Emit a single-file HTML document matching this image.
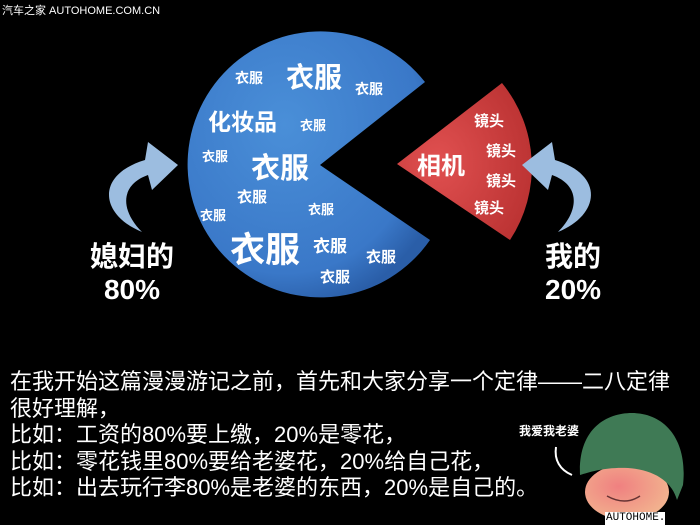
<!DOCTYPE html>
<html><head><meta charset="utf-8"><style>
body{margin:0;width:700px;height:525px;background:#000;overflow:hidden;position:relative;font-family:"Liberation Sans","Noto Sans CJK SC",sans-serif;color:#fff}
.t{position:absolute;white-space:nowrap}
</style></head><body>
<svg width="700" height="525" style="position:absolute;left:0;top:0">
<defs>
<radialGradient id="bg" cx="0.4" cy="0.35" r="0.7"><stop offset="0" stop-color="#4a8fd8"/><stop offset="0.8" stop-color="#3a78c8"/><stop offset="1" stop-color="#2a5ea8"/></radialGradient>
<radialGradient id="rg" cx="0.3" cy="0.5" r="0.8"><stop offset="0" stop-color="#e05050"/><stop offset="1" stop-color="#b83030"/></radialGradient>
<radialGradient id="fg" cx="0.4" cy="0.4" r="0.7"><stop offset="0" stop-color="#f08080"/><stop offset="1" stop-color="#f2b890"/></radialGradient>
</defs>
<path d="M320,165 L425,82 A133,133 0 1 0 430,240 Z" fill="url(#bg)"/>
<path d="M397,164 L502,83 A133,133 0 0 1 510,240 Z" fill="url(#rg)"/>
<path d="M142,232 C100,215 95,175 145,160 L148,142 L178,165 L152,190 L148,175 C120,185 120,210 142,232 Z" fill="#9cbde0"/>
<path d="M558,232 C600,215 605,175 555,160 L552,142 L522,165 L548,190 L552,175 C580,185 580,210 558,232 Z" fill="#9cbde0"/>
<path d="M556,447 C554,460 560,470 572,475" stroke="#fff" stroke-width="2" fill="none"/>
<ellipse cx="627" cy="492" rx="42" ry="28" fill="url(#fg)"/>
<path d="M580,475 C578,430 605,413 632,413 C665,413 688,440 683,485 L677,500 C672,482 655,470 628,468 C605,467 590,472 580,475 Z" fill="#3f7a55"/>
<path d="M607,496 Q625,506 640,496" stroke="#633" stroke-width="1.5" fill="none"/>
<rect x="605" y="512" width="60" height="13" fill="#fff"/>
</svg>
<div class="t" style="left:2px;top:2px;font-size:11px">汽车之家 AUTOHOME.COM.CN</div>
<div class="t" style="left:235px;top:68px;font-size:14px;font-weight:bold">衣服</div>
<div class="t" style="left:286px;top:56px;font-size:28px;font-weight:bold">衣服</div>
<div class="t" style="left:355px;top:79px;font-size:14px;font-weight:bold">衣服</div>
<div class="t" style="left:208px;top:103px;font-size:23px;font-weight:bold">化妆品</div>
<div class="t" style="left:300px;top:115px;font-size:13px;font-weight:bold">衣服</div>
<div class="t" style="left:202px;top:146px;font-size:13px;font-weight:bold">衣服</div>
<div class="t" style="left:251px;top:145px;font-size:29px;font-weight:bold">衣服</div>
<div class="t" style="left:237px;top:186px;font-size:15px;font-weight:bold">衣服</div>
<div class="t" style="left:308px;top:199px;font-size:13px;font-weight:bold">衣服</div>
<div class="t" style="left:200px;top:205px;font-size:13px;font-weight:bold">衣服</div>
<div class="t" style="left:230px;top:222px;font-size:35px;font-weight:bold">衣服</div>
<div class="t" style="left:313px;top:232px;font-size:17px;font-weight:bold">衣服</div>
<div class="t" style="left:366px;top:246px;font-size:15px;font-weight:bold">衣服</div>
<div class="t" style="left:320px;top:266px;font-size:15px;font-weight:bold">衣服</div>
<div class="t" style="left:417px;top:146px;font-size:24px;font-weight:bold">相机</div>
<div class="t" style="left:474px;top:110px;font-size:15px;font-weight:bold">镜头</div>
<div class="t" style="left:486px;top:140px;font-size:15px;font-weight:bold">镜头</div>
<div class="t" style="left:486px;top:170px;font-size:15px;font-weight:bold">镜头</div>
<div class="t" style="left:474px;top:197px;font-size:15px;font-weight:bold">镜头</div>
<div class="t" style="left:90px;top:240px;font-size:28px;font-weight:bold;text-align:center;line-height:33px">媳妇的<br>80%</div>
<div class="t" style="left:545px;top:240px;font-size:28px;font-weight:bold;text-align:center;line-height:33px">我的<br>20%</div>
<div class="t" style="left:10px;top:369px;font-size:22px;line-height:26.5px">在我开始这篇漫漫游记之前，首先和大家分享一个定律——二八定律<br>很好理解，<br>比如：工资的80%要上缴，20%是零花，<br>比如：零花钱里80%要给老婆花，20%给自己花，<br>比如：出去玩行李80%是老婆的东西，20%是自己的。</div>
<div class="t" style="left:519px;top:422px;font-size:12px;font-weight:bold">我爱我老婆</div>
<div class="t" style="left:606px;top:512px;font-size:11px;color:#000;font-family:'Liberation Mono',monospace">AUTOHOME.C</div>
</body></html>
